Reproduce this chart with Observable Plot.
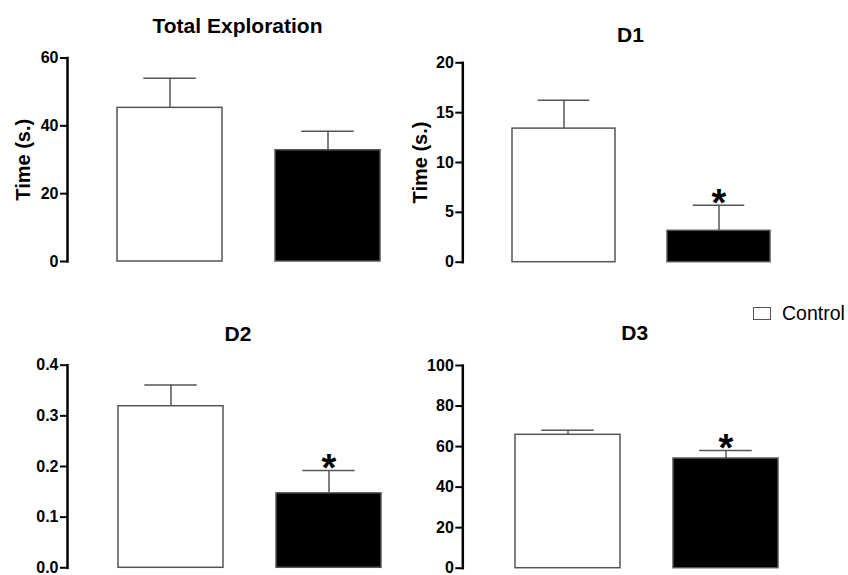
<!DOCTYPE html>
<html>
<head>
<meta charset="utf-8">
<script src="https://cdn.jsdelivr.net/npm/d3@7"></script>
<script src="https://cdn.jsdelivr.net/npm/@observablehq/plot@0.6"></script>
<style>
  html, body { margin: 0; padding: 0; background: #fff; }
  #wrap { position: relative; width: 848px; height: 575px; overflow: hidden; font-family: "Liberation Sans", Arial, sans-serif; color: #000; }
  .panel { position: absolute; }
  .title { position: absolute; font-weight: bold; font-size: 21px; line-height: 1; transform: translate(-50%, -50%); white-space: nowrap; }
  .legend { position: absolute; display: flex; align-items: center; font-size: 19.5px; }
  .legend .box { width: 16px; height: 11px; border: 1.5px solid #555; background: #fff; margin-right: 11px; }
</style>
</head>
<body>
<div id="wrap"></div>
<script>
// ---- data ----
const groups = ["Control", "Treatment"];
const titles = ["Total Exploration", "D1", "D2", "D3"];
const yLabel = "Time (s.)";
const legendLabels = ["Control"];

const totalMean = [45.3, 32.8];
const totalSem  = [8.7, 5.6];
const d1Mean = [13.4, 3.15];
const d1Sem  = [2.85, 2.55];
const d2Mean = [0.319, 0.147];
const d2Sem  = [0.042, 0.045];
const d3Mean = [65.8, 54.1];
const d3Sem  = [2.3, 4.0];

const d1Sig = [false, true];
const d2Sig = [false, true];
const d3Sig = [false, true];

const totalTicks = [0, 20, 40, 60];
const d1Ticks = [0, 5, 10, 15, 20];
const d2Ticks = [0, 0.1, 0.2, 0.3, 0.4];
const d3Ticks = [0, 20, 40, 60, 80, 100];

const FONT = '"Liberation Sans", Arial, sans-serif';
const wrap = document.getElementById("wrap");

function panel(cfg) {
  const data = groups.map((g, i) => ({
    g, v: cfg.mean[i], e: cfg.mean[i] + cfg.sem[i], s: cfg.sig ? cfg.sig[i] : false
  }));
  const step = (cfg.r[1] - cfg.r[0]) / (2 - cfg.pi + 2 * cfg.po);
  const bw = step * (1 - cfg.pi);
  const mid = (cfg.domain[0] + cfg.domain[1]) / 2;
  const marks = [
    Plot.barY(data, {x: "g", y: "v", fill: "g", stroke: "#555", strokeWidth: 1.5}),
    Plot.ruleX(data, {x: "g", y1: "v", y2: "e", stroke: "#555", strokeWidth: 1.5}),
    Plot.tickY(data, {x: "g", y: "e", stroke: "#555", strokeWidth: 1.5, insetLeft: bw / 4, insetRight: bw / 4}),
    Plot.axisY({ticks: cfg.ticks, tickFormat: cfg.fmt, tickSize: 7, tickPadding: 2, fontSize: 16, fontWeight: "bold", strokeWidth: 2, label: null}),
    Plot.frame({anchor: "left", strokeWidth: 2.5}),
    Plot.text(data.filter(d => d.s), {x: "g", y: "e", text: () => "*", fontSize: 38, fontWeight: "bold", dy: -2})
  ];
  if (cfg.label) {
    marks.push(Plot.text([cfg.label], {y: () => mid, frameAnchor: "left", textAnchor: "middle", rotate: -90, dx: cfg.labelDx, fontSize: 20, fontWeight: "bold"}));
  }
  const plot = Plot.plot({
    width: 440,
    height: cfg.height,
    marginTop: cfg.mt,
    marginBottom: cfg.mb,
    marginLeft: cfg.ml,
    marginRight: 0,
    style: {fontFamily: FONT, color: "#000", background: "transparent", overflow: "visible"},
    x: {type: "band", domain: groups, range: cfg.r, paddingInner: cfg.pi, paddingOuter: cfg.po, axis: null},
    y: {domain: cfg.domain, axis: null},
    color: {domain: groups, range: ["#fff", "#000"]},
    marks
  });
  const div = document.createElement("div");
  div.className = "panel";
  div.style.left = cfg.left + "px";
  div.style.top = cfg.top + "px";
  div.appendChild(plot);
  wrap.appendChild(div);
}

panel({mean: totalMean, sem: totalSem, domain: [0, 60], ticks: totalTicks, fmt: d3.format("d"),
  label: yLabel, labelDx: -44,
  left: 0, top: 40, height: 240, mt: 17.5, mb: 19, ml: 67,
  r: [67, 67 + 363], pi: 0.335, po: 0.316});

panel({mean: d1Mean, sem: d1Sem, sig: d1Sig, domain: [0, 20], ticks: d1Ticks, fmt: d3.format("d"),
  label: yLabel, labelDx: -42,
  left: 400, top: 40, height: 240, mt: 22.3, mb: 18.3, ml: 62.3,
  r: [62.3, 62.3 + 357], pi: 0.337, po: 0.318});

panel({mean: d2Mean, sem: d2Sem, sig: d2Sig, domain: [0, 0.4], ticks: d2Ticks, fmt: d3.format(".1f"),
  left: 0, top: 340, height: 235, mt: 24.7, mb: 7.7, ml: 67,
  r: [67, 67 + 364.7], pi: 0.336, po: 0.317});

panel({mean: d3Mean, sem: d3Sem, sig: d3Sig, domain: [0, 100], ticks: d3Ticks, fmt: d3.format("d"),
  left: 400, top: 340, height: 235, mt: 25, mb: 7.3, ml: 62.3,
  r: [62.3, 62.3 + 367.6], pi: 0.338, po: 0.328});

// titles
const titlePos = [[237.5, 25], [630.5, 34], [238, 333], [634.7, 332]];
titles.forEach((t, i) => {
  const d = document.createElement("div");
  d.className = "title";
  d.textContent = t;
  d.style.left = titlePos[i][0] + "px";
  d.style.top = titlePos[i][1] + "px";
  wrap.appendChild(d);
});

// legend
const lg = document.createElement("div");
lg.className = "legend";
lg.style.left = "753px";
lg.style.top = "302px";
legendLabels.forEach(l => {
  const b = document.createElement("span"); b.className = "box";
  const s = document.createElement("span"); s.textContent = l;
  lg.appendChild(b); lg.appendChild(s);
});
wrap.appendChild(lg);
</script>
</body>
</html>
